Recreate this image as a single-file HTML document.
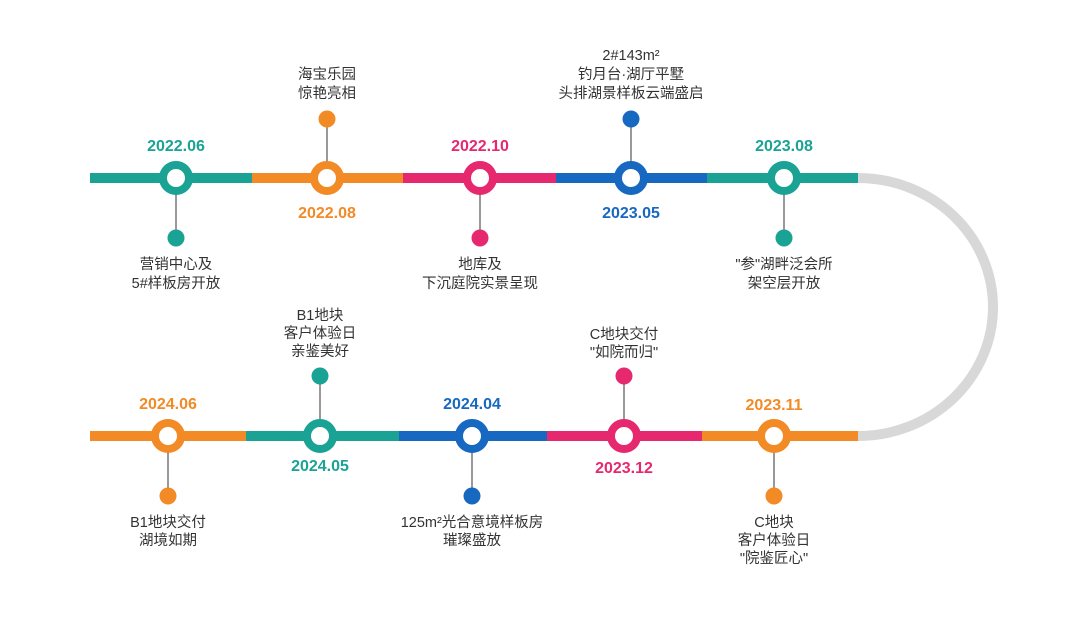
<!DOCTYPE html>
<html><head><meta charset="utf-8"><style>
html,body{margin:0;padding:0;background:#fff;}
svg{display:block;}
text{font-family:"Liberation Sans","Noto Sans CJK SC",sans-serif;text-anchor:middle;}
.l{font-size:14.5px;fill:#333;}
.d{font-size:16px;font-weight:bold;}
</style></head><body>
<svg width="1080" height="618" viewBox="0 0 1080 618" xmlns="http://www.w3.org/2000/svg">
<path d="M858 178 A135 129 0 0 1 858 436" fill="none" stroke="#d8d8d8" stroke-width="10"/>
<g stroke-width="10">
<line x1="90" y1="178" x2="252" y2="178" stroke="#1aa394"/>
<line x1="252" y1="178" x2="403" y2="178" stroke="#f28a26"/>
<line x1="403" y1="178" x2="556" y2="178" stroke="#e6286e"/>
<line x1="556" y1="178" x2="707" y2="178" stroke="#1768c0"/>
<line x1="707" y1="178" x2="858" y2="178" stroke="#1aa394"/>
<line x1="90" y1="436" x2="246" y2="436" stroke="#f28a26"/>
<line x1="246" y1="436" x2="399" y2="436" stroke="#1aa394"/>
<line x1="399" y1="436" x2="547" y2="436" stroke="#1768c0"/>
<line x1="547" y1="436" x2="702" y2="436" stroke="#e6286e"/>
<line x1="702" y1="436" x2="858" y2="436" stroke="#f28a26"/>
</g>
<g stroke="#999" stroke-width="2">
<line x1="176" y1="178" x2="176" y2="238"/>
<line x1="327" y1="119" x2="327" y2="178"/>
<line x1="480" y1="178" x2="480" y2="238"/>
<line x1="631" y1="119" x2="631" y2="178"/>
<line x1="784" y1="178" x2="784" y2="238"/>
<line x1="168" y1="436" x2="168" y2="496"/>
<line x1="320" y1="376" x2="320" y2="436"/>
<line x1="472" y1="436" x2="472" y2="496"/>
<line x1="624" y1="376" x2="624" y2="436"/>
<line x1="774" y1="436" x2="774" y2="496"/>
</g>
<g fill="#fff" stroke-width="8">
<circle cx="176" cy="178" r="13" stroke="#1aa394"/>
<circle cx="327" cy="178" r="13" stroke="#f28a26"/>
<circle cx="480" cy="178" r="13" stroke="#e6286e"/>
<circle cx="631" cy="178" r="13" stroke="#1768c0"/>
<circle cx="784" cy="178" r="13" stroke="#1aa394"/>
<circle cx="168" cy="436" r="13" stroke="#f28a26"/>
<circle cx="320" cy="436" r="13" stroke="#1aa394"/>
<circle cx="472" cy="436" r="13" stroke="#1768c0"/>
<circle cx="624" cy="436" r="13" stroke="#e6286e"/>
<circle cx="774" cy="436" r="13" stroke="#f28a26"/>
</g>
<circle cx="176" cy="238" r="8.5" fill="#1aa394"/>
<circle cx="327" cy="119" r="8.5" fill="#f28a26"/>
<circle cx="480" cy="238" r="8.5" fill="#e6286e"/>
<circle cx="631" cy="119" r="8.5" fill="#1768c0"/>
<circle cx="784" cy="238" r="8.5" fill="#1aa394"/>
<circle cx="168" cy="496" r="8.5" fill="#f28a26"/>
<circle cx="320" cy="376" r="8.5" fill="#1aa394"/>
<circle cx="472" cy="496" r="8.5" fill="#1768c0"/>
<circle cx="624" cy="376" r="8.5" fill="#e6286e"/>
<circle cx="774" cy="496" r="8.5" fill="#f28a26"/>

<text class="d" x="176" y="151" fill="#1aa394">2022.06</text>
<text class="d" x="327" y="218" fill="#f28a26">2022.08</text>
<text class="d" x="480" y="151" fill="#e6286e">2022.10</text>
<text class="d" x="631" y="218" fill="#1768c0">2023.05</text>
<text class="d" x="784" y="151" fill="#1aa394">2023.08</text>
<text class="d" x="168" y="409" fill="#f28a26">2024.06</text>
<text class="d" x="320" y="471" fill="#1aa394">2024.05</text>
<text class="d" x="472" y="409" fill="#1768c0">2024.04</text>
<text class="d" x="624" y="473" fill="#e6286e">2023.12</text>
<text class="d" x="774" y="410" fill="#f28a26">2023.11</text>

<text class="l" x="176" y="269">营销中心及</text>
<text class="l" x="176" y="288">5#样板房开放</text>
<text class="l" x="327" y="79">海宝乐园</text>
<text class="l" x="327" y="98">惊艳亮相</text>
<text class="l" x="480" y="269">地库及</text>
<text class="l" x="480" y="288">下沉庭院实景呈现</text>
<text class="l" x="631" y="60">2#143m²</text>
<text class="l" x="631" y="79">钓月台·湖厅平墅</text>
<text class="l" x="631" y="98">头排湖景样板云端盛启</text>
<text class="l" x="784" y="269">"参"湖畔泛会所</text>
<text class="l" x="784" y="288">架空层开放</text>
<text class="l" x="168" y="527">B1地块交付</text>
<text class="l" x="168" y="545">湖境如期</text>
<text class="l" x="320" y="320">B1地块</text>
<text class="l" x="320" y="338">客户体验日</text>
<text class="l" x="320" y="356">亲鉴美好</text>
<text class="l" x="472" y="527">125m²光合意境样板房</text>
<text class="l" x="472" y="545">璀璨盛放</text>
<text class="l" x="624" y="339">C地块交付</text>
<text class="l" x="624" y="357">"如院而归"</text>
<text class="l" x="774" y="527">C地块</text>
<text class="l" x="774" y="545">客户体验日</text>
<text class="l" x="774" y="563">"院鉴匠心"</text>
</svg>
</body></html>
